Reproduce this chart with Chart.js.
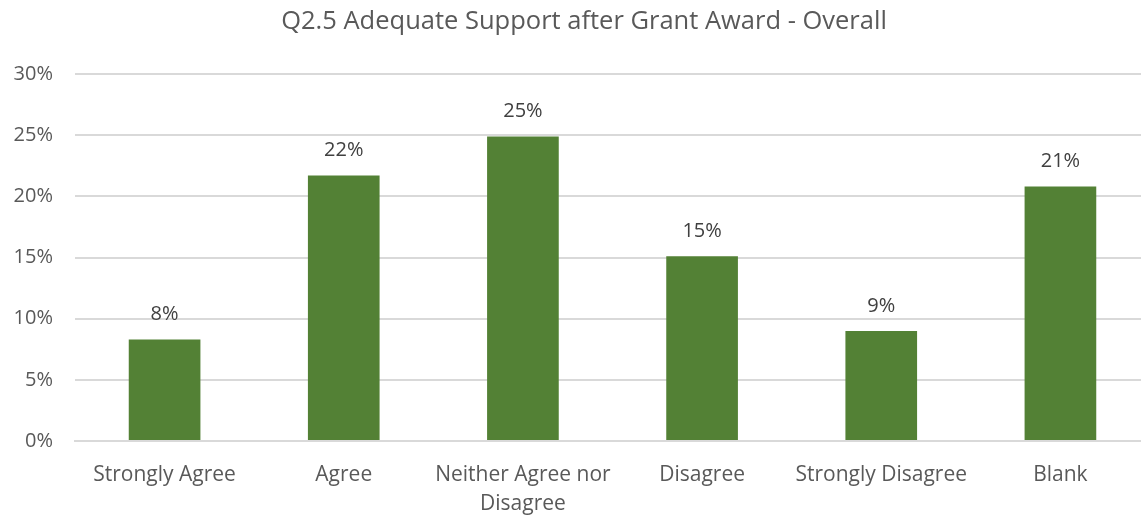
<!DOCTYPE html>
<html>
<head>
<meta charset="utf-8">
<script src="https://cdn.jsdelivr.net/npm/chart.js@4/dist/chart.umd.min.js"></script>
<style>
  html, body { margin: 0; padding: 0; background: #fff; overflow: hidden; }
  #wrap { width: 1150px; height: 519px; }
</style>
</head>
<body>
<div id="wrap"><canvas id="myChart"></canvas></div>
<script>
const ctx = document.getElementById('myChart');

const chartTitle = 'Q2.5 Adequate Support after Grant Award - Overall';
const categories = [
  "Strongly Agree", "Agree", ["Neither Agree nor", "Disagree"],
  "Disagree", "Strongly Disagree", "Blank"
];
const shares = [8.3, 21.7, 24.9, 15.1, 9.0, 20.8];
const yTicks = [0, 5, 10, 15, 20, 25, 30];

const textGrey = '#595959';
const fontFamily = "'Open Sans', sans-serif";

// title sits a little right of the canvas middle, over the plot
const titleText = {
  id: 'titleText',
  afterDraw(chart) {
    const c = chart.ctx;
    c.save();
    c.font = '25.5px ' + fontFamily;
    c.fillStyle = textGrey;
    c.textAlign = 'center';
    c.textBaseline = 'middle';
    c.fillText(chartTitle, 584, 22);
    c.restore();
  }
};

// percent labels above each bar
const barLabels = {
  id: 'barLabels',
  afterDatasetsDraw(chart) {
    const c = chart.ctx;
    const meta = chart.getDatasetMeta(0);
    c.save();
    c.font = '20px ' + fontFamily;
    c.fillStyle = '#404040';
    c.textAlign = 'center';
    c.textBaseline = 'middle';
    meta.data.forEach((bar, i) => {
      c.fillText(Math.round(shares[i]) + '%', bar.x, bar.y - 25);
    });
    c.restore();
  }
};

new Chart(ctx, {
  type: 'bar',
  data: {
    labels: categories,
    datasets: [{
      label: 'Share',
      data: shares,
      backgroundColor: '#538135',
      barPercentage: 0.4,
      categoryPercentage: 1
    }]
  },
  options: {
    responsive: true,
    maintainAspectRatio: false,
    animation: false,
    layout: { padding: { top: 74, right: 0, bottom: 0, left: 0 } },
    plugins: {
      legend: { display: false },
      tooltip: { enabled: false },
      title: { display: false }
    },
    scales: {
      x: {
        grid: { display: false, drawTicks: false },
        border: { display: true, color: '#d9d9d9', width: 2 },
        ticks: {
          color: textGrey,
          font: { family: fontFamily, size: 21, lineHeight: 1.4 },
          padding: 19,
          maxRotation: 0,
          autoSkip: false
        },
        afterFit(scale) { scale.height = 78; }
      },
      y: {
        min: 0,
        max: 30,
        afterBuildTicks(scale) { scale.ticks = yTicks.map(v => ({ value: v })); },
        grid: { color: '#d9d9d9', lineWidth: 2, drawTicks: false },
        border: { display: false },
        ticks: {
          color: textGrey,
          font: { family: fontFamily, size: 20 },
          padding: 22,
          callback: v => v + '%'
        },
        afterFit(scale) { scale.width = 75; }
      }
    }
  },
  plugins: [barLabels, titleText]
});
</script>
</body>
</html>
